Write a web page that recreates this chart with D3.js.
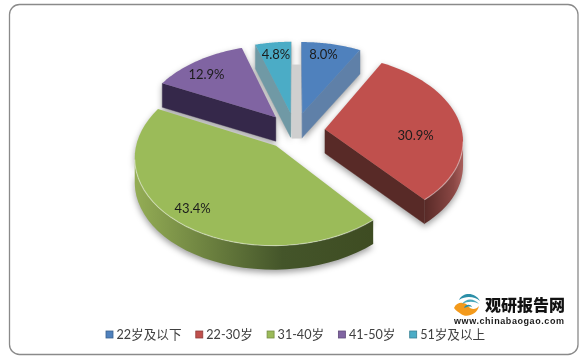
<!DOCTYPE html>
<html>
<head>
<meta charset="utf-8">
<script src="https://cdn.jsdelivr.net/npm/d3@7"></script>
<style>
html, body { margin: 0; padding: 0; background: #fff; }
svg { display: block; }
text { font-family: Lato, "Noto Sans CJK SC", sans-serif; }
</style>
</head>
<body>
<div id="chart"></div>
<script>
const categories = ["22岁及以下", "22-30岁", "31-40岁", "41-50岁", "51岁及以上"]
const shares = [8.0, 30.9, 43.4, 12.9, 4.8]
const topColors = ["#4f81bd", "#c0504d", "#9bbb59", "#8064a2", "#4bacc6"]
const sideColors = ["#5f80a8", "#582a27", "#44552a", "#35284a", "#7099a5"]
const wallLight = ["#7d9cc4", "#a95f5c", "#94ad55", "#6a5488", "#6fb0c4"]
const labelRadius = [0.83, 0.66, 0.85, 0.8, 0.82]
const labelTurn = [-2, 12, 1, -4, 0]

const w = 588
const h = 363
const cx = 295
const cy = 131
const rx = 137
const ry = 84
const perspective = 0.12
const explode = 0.22
const depth = 24

const svg = d3.select("#chart").append("svg")
    .attr("width", w)
    .attr("height", h)

const defs = svg.append("defs")

defs.append("filter")
    .attr("id", "soft")
    .attr("x", "-30%").attr("y", "-30%")
    .attr("width", "160%").attr("height", "160%")
    .append("feGaussianBlur")
    .attr("stdDeviation", 3.2)

// outer frame
svg.append("rect")
    .attr("x", 9.5)
    .attr("y", 4.5)
    .attr("width", 568.5)
    .attr("height", 350)
    .attr("rx", 10)
    .attr("fill", "#fff")
    .attr("stroke", "#8a8a8a")
    .attr("stroke-width", 1.3)

// pie plane -> screen, u to the right, v towards the viewer
function project(u, v) {
    const s = 1 / (1 - perspective * v)
    return [cx + rx * u * s, cy + ry * v * s]
}

const slices = d3.pie().sort(null).value(d => d)(shares).map((d, i) => {
    const mid = (d.startAngle + d.endAngle) / 2
    const ou = explode * Math.sin(mid)
    const ov = -explode * Math.cos(mid)
    const rim = d3.range(0, 41).map(k => {
        const a = d.startAngle + (d.endAngle - d.startAngle) * k / 40
        return project(ou + Math.sin(a), ov - Math.cos(a))
    })
    const apex = project(ou, ov)
    const outline = [apex, ...rim, apex]
    const la = mid + labelTurn[i] * Math.PI / 180
    const lp = project(ou + labelRadius[i] * Math.sin(la), ov - labelRadius[i] * Math.cos(la))
    return { i, rim, apex, outline, lp }
})

const line = d3.line()
const poly = pts => line(pts) + "Z"
const drop = p => [p[0], p[1] + depth]

// wall pieces: outline runs clockwise, so edges going leftwards face the viewer
function walls(s) {
    const out = []
    let run = []
    for (let k = 0; k < s.outline.length - 1; k++) {
        const a = s.outline[k], b = s.outline[k + 1]
        const isFlat = k === 0 || k === s.outline.length - 2
        if (b[0] < a[0] - 0.001) {
            if (isFlat) {
                out.push({ pts: [a, b], flat: true })
            } else {
                if (!run.length) run.push(a)
                run.push(b)
            }
        }
    }
    if (run.length) out.push({ pts: run, flat: false })
    return out
}

// same gradient direction for the curved walls
slices.forEach(s => {
    const curved = walls(s).find(f => !f.flat)
    if (!curved) return
    const xs = curved.pts.map(p => p[0])
    const g = defs.append("linearGradient")
        .attr("id", "wall" + s.i)
        .attr("gradientUnits", "userSpaceOnUse")
        .attr("x1", d3.min(xs)).attr("x2", d3.max(xs))
        .attr("y1", 0).attr("y2", 0)
    const flip = s.i === 1
    g.append("stop").attr("offset", 0).attr("stop-color", flip ? sideColors[s.i] : wallLight[s.i])
    g.append("stop").attr("offset", flip ? 0.75 : 0.62).attr("stop-color", flip ? "#8a4744" : sideColors[s.i])
    g.append("stop").attr("offset", 1).attr("stop-color", flip ? wallLight[s.i] : "#3e4c22")
})

const drawOrder = [4, 3, 0, 1, 2]

// soft shadows under everything
const shadow = svg.append("g").attr("filter", "url(#soft)")
drawOrder.forEach(i => {
    const s = slices[i]
    const body = [...s.outline, ...s.outline.map(drop).reverse()]
    const hull = d3.polygonHull(body.map(p => [p[0], p[1] + 3]))
    const concave = i === 2
    shadow.append("path")
        .attr("d", poly(concave ? [...s.outline, ...s.outline.map(drop).reverse()].map(p => [p[0], p[1] + 3]) : hull))
        .attr("fill", "#000")
        .attr("opacity", 0.38)
})

// grey strip in the gap between the two smallest slices
svg.append("rect")
    .attr("x", slices[4].apex[0] + 1)
    .attr("y", slices[0].apex[1] - 49)
    .attr("width", slices[0].apex[0] - slices[4].apex[0] - 1)
    .attr("height", 74)
    .attr("fill", "#cfcfcf")

drawOrder.forEach(i => {
    const s = slices[i]
    const g = svg.append("g")
    walls(s).forEach(f => {
        g.append("path")
            .attr("d", poly([...f.pts, ...f.pts.map(drop).reverse()]))
            .attr("fill", f.flat ? sideColors[i] : `url(#wall${i})`)
            .attr("stroke", f.flat ? sideColors[i] : "none")
            .attr("stroke-width", 0.4)
    })
    g.append("path")
        .attr("d", poly(s.outline))
        .attr("fill", topColors[i])
    // thin bevel highlight where the top meets the wall
    walls(s).filter(f => !f.flat).forEach(f => {
        g.append("path")
            .attr("d", line(f.pts))
            .attr("fill", "none")
            .attr("stroke", "#fff")
            .attr("stroke-opacity", 0.4)
            .attr("stroke-width", 1.2)
    })
})

svg.append("g").selectAll("text")
    .data(slices)
    .enter()
    .append("text")
    .text(d => d3.format(".1f")(shares[d.i]) + "%")
    .attr("x", d => d.lp[0])
    .attr("y", d => d.lp[1])
    .attr("dy", "0.35em")
    .attr("text-anchor", "middle")
    .attr("font-size", 13)
    .attr("fill", "#1c1c1c")

// legend, one entry after the other
const legend = svg.append("g")
let lx = 106
categories.forEach((c, i) => {
    legend.append("rect")
        .attr("x", lx)
        .attr("y", 331)
        .attr("width", 7)
        .attr("height", 7)
        .attr("fill", topColors[i])
        .attr("stroke", d3.color(topColors[i]).darker(0.8))
        .attr("stroke-width", 0.8)
    const t = legend.append("text")
        .text(c)
        .attr("x", lx + 10.5)
        .attr("y", 339)
        .attr("font-size", 12.6)
        .attr("fill", "#404040")
    lx += 10.5 + t.node().getComputedTextLength() + 14.3
})

// watermark logo
const logo = svg.append("g").attr("transform", "translate(467,305)")
const swirl = [
    ["M-13,3 C-10,-4 -2,-3 1,1 C4,5 9,5 12,1 C10,10 -1,13 -6,9 C-8,7 -11,6 -13,3Z", "#f39a1c"],
    ["M-8,-5 C-4,-13 8,-13 13,-4 C8,-8 0,-10 -8,-5Z", "#2b8fa8"],
    ["M-5,-1 C-1,-7 7,-7 12,-1 C7,-4 1,-4 -5,-1Z", "#4aa9bd"],
    ["M-3,3 C-2,-1 4,-1 5,2 C2,1 0,2 -3,3Z", "#2b8fa8"]
]
logo.selectAll("path")
    .data(swirl)
    .enter()
    .append("path")
    .attr("d", d => d[0])
    .attr("fill", d => d[1])

svg.append("text")
    .text("观研报告网")
    .attr("x", 485)
    .attr("y", 311)
    .attr("font-size", 16)
    .attr("font-weight", 900)
    .attr("fill", "#111")
    .style("font-family", '"Noto Sans CJK SC", sans-serif')

svg.append("text")
    .text("www.chinabaogao.com")
    .attr("x", 454)
    .attr("y", 324)
    .attr("font-size", 9)
    .attr("font-weight", 700)
    .attr("fill", "#1a1a1a")
    .attr("textLength", 110)
    .style("font-family", '"Liberation Sans", sans-serif')
</script>
</body>
</html>
